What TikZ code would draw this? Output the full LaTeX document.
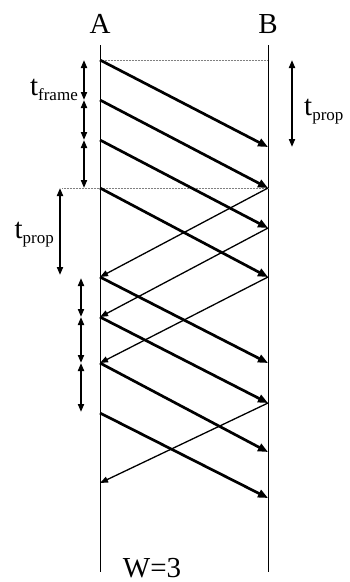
\documentclass[tikz,border=0pt]{standalone}
\usepackage{fontspec}
\setmainfont{Liberation Serif}
\usepackage{tikz}
\usetikzlibrary{arrows.meta}

\newcommand{\bigfont}{\fontsize{29}{30}\selectfont}
\newcommand{\tsub}[1]{{\bigfont t}{\fontsize{17}{18}\selectfont\raisebox{-5pt}{#1}}}

\begin{document}
\begin{tikzpicture}[x=1pt,y=-1pt,
    timeline/.style={line width=1pt},
    frameline/.style={line width=2.7pt,-{Triangle[length=10pt,width=8pt]}},
    ackline/.style={line width=1.3pt,-{Triangle[length=8pt,width=6pt]}},
    span/.style={line width=1.8pt,{Triangle[length=8pt,width=6pt]}-{Triangle[length=8pt,width=6pt]}},
    guide/.style={densely dotted,line width=0.5pt,gray},
    lbl/.style={inner sep=0pt,font=\bigfont}]
  \useasboundingbox (0,0) rectangle (349,582);
  \def\xa{100}
  \def\xb{268}
  % stations
  \node[lbl,anchor=base] (A) at (\xa,33) {A};
  \node[lbl,anchor=base] (B) at (\xb,33) {B};
  \coordinate (Atop) at (\xa,45);
  \coordinate (Abot) at (\xa,572);
  \coordinate (Btop) at (\xb,45);
  \coordinate (Bbot) at (\xb,572);
  \draw[timeline] (Atop) -- (Abot);
  \draw[timeline] (Btop) -- (Bbot);
  % guides
  \coordinate (g1a) at (\xa,60);
  \coordinate (g1b) at (\xb,60);
  \coordinate (g2a) at (62,188);
  \coordinate (g2b) at (\xb,188);
  \draw[guide] (g1a) -- (g1b);
  \draw[guide] (g2a) -- (g2b);
  % frames A -> B
  \foreach \s/\e [count=\i] in {60/147,100/188,140/228,188/277,277/363,317/403,363/452,413/498}{
    \coordinate (fa\i) at (\xa,\s);
    \coordinate (fb\i) at (\xb,\e);
    \draw[frameline] (fa\i) -- (fb\i);
  }
  % acks B -> A
  \foreach \s/\e [count=\i] in {188/277,228/317,277/363,403/483}{
    \coordinate (kb\i) at (\xb,\s);
    \coordinate (ka\i) at (\xa,\e);
    \draw[ackline] (kb\i) -- (ka\i);
  }
  % frame times
  \foreach \s/\e [count=\i] in {60/100,100/140,140/188}{
    \coordinate (ts\i) at (84,\s);
    \coordinate (te\i) at (84,\e);
    \draw[span] (ts\i) -- (te\i);
  }
  \foreach \s/\e [count=\i] in {278/317,317/363,363/412}{
    \coordinate (us\i) at (81,\s);
    \coordinate (ue\i) at (81,\e);
    \draw[span] (us\i) -- (ue\i);
  }
  % propagation times
  \coordinate (pr1) at (292,60);
  \coordinate (pr2) at (292,147);
  \draw[span] (pr1) -- (pr2);
  \coordinate (pl1) at (60,188);
  \coordinate (pl2) at (60,275);
  \draw[span] (pl1) -- (pl2);
  % labels
  \node[inner sep=0pt,anchor=base east] (tframe) at (78,95) {\tsub{frame}};
  \node[inner sep=0pt,anchor=base west] (tpropr) at (304,115) {\tsub{prop}};
  \node[inner sep=0pt,anchor=base east] (tpropl) at (54,238) {\tsub{prop}};
  \node[lbl,anchor=base] (win) at (152,577) {W=3};
\end{tikzpicture}
\end{document}
